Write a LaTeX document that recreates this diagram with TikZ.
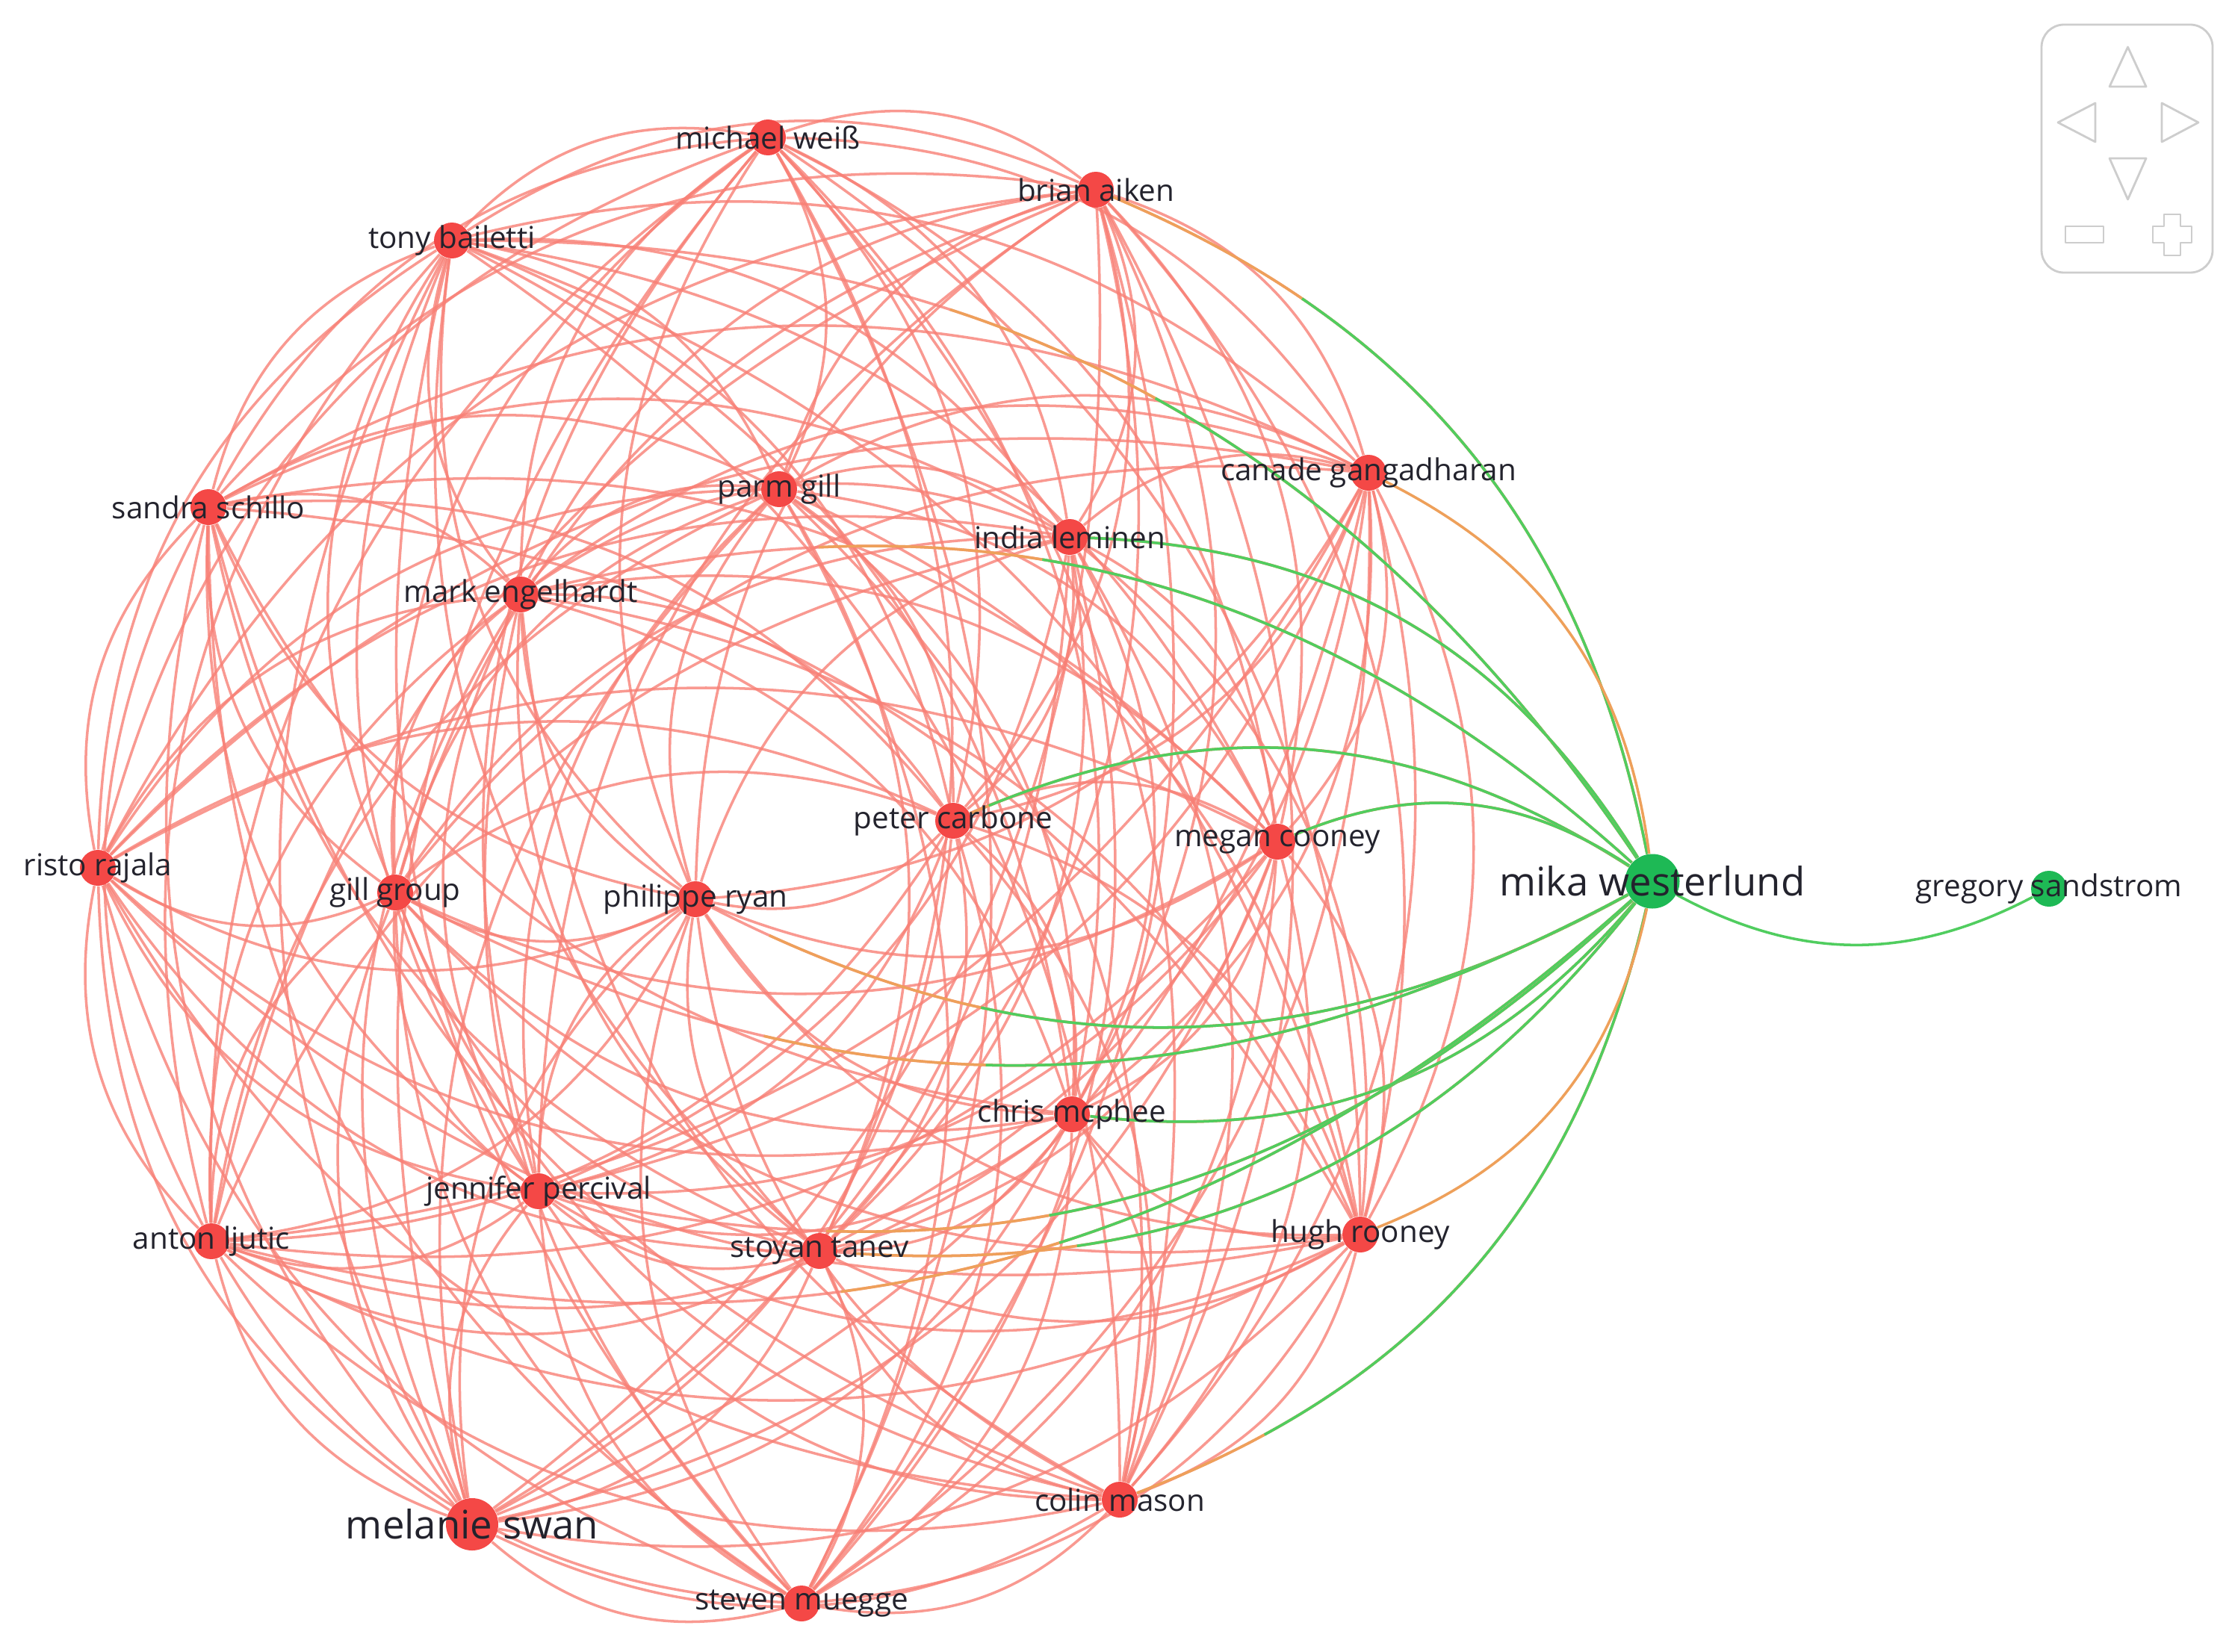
\documentclass[tikz,border=0pt]{standalone}
\usepackage{fontspec}
\setmainfont{Open Sans}
\usetikzlibrary{backgrounds}

\definecolor{nodered}{RGB}{244,72,70}
\definecolor{edgered}{RGB}{248,128,118}
\definecolor{nodegreen}{RGB}{30,185,85}
\definecolor{edgegreen}{RGB}{80,205,95}
\definecolor{edgeorange}{RGB}{238,160,90}
\definecolor{labelgray}{RGB}{35,35,45}
\definecolor{navgray}{RGB}{205,205,205}

\begin{document}
\begin{tikzpicture}[
    every node/.style={font=\fontsize{11.5}{13}\selectfont, text=labelgray},
    author/.style={circle, fill=nodered, inner sep=0pt, minimum size=4.8mm},
    bigauthor/.style={author, minimum size=7mm},
    lbl/.style={inner sep=0pt},
    biglbl/.style={inner sep=0pt, font=\fontsize{15}{17}\selectfont},
    coauthor/.style={draw=edgered, line width=1pt, opacity=0.8},
    greenlink/.style={draw=edgegreen, line width=1pt, dash pattern=on 9cm off 60cm},
    orangelink/.style={draw=edgeorange, line width=1pt, dash pattern=on 12cm off 60cm},
    navline/.style={draw=navgray, line width=0.8pt, line join=round}
]
    \useasboundingbox (0,0) rectangle (29.88,-22.11);

    % Nodes
    \node (rajala) at (1.31,-11.62) [author] {};
    \node (schillo) at (2.79,-6.79) [author] {};
    \node (engelhardt) at (6.97,-7.96) [author] {};
    \node (bailetti) at (6.05,-3.22) [author] {};
    \node (weiss) at (10.28,-1.84) [author] {};
    \node (gill) at (10.43,-6.55) [author] {};
    \node (aiken) at (14.67,-2.54) [author] {};
    \node (leminen) at (14.32,-7.19) [author] {};
    \node (gangadharan) at (18.32,-6.33) [author] {};
    \node (carbone) at (12.76,-10.99) [author] {};
    \node (cooney) at (17.10,-11.27) [author] {};
    \node (rooney) at (18.21,-16.53) [author] {};
    \node (mcphee) at (14.35,-14.92) [author] {};
    \node (mason) at (14.99,-20.08) [author] {};
    \node (tanev) at (10.97,-16.75) [author] {};
    \node (muegge) at (10.73,-21.47) [author] {};
    \node (swan) at (6.32,-20.41) [bigauthor] {};
    \node (percival) at (7.21,-15.95) [author] {};
    \node (ryan) at (9.31,-12.04) [author] {};
    \node (ljutic) at (2.83,-16.62) [author] {};
    \node (gill_group) at (5.29,-11.95) [author] {};
    \node (westerlund) at (22.12,-11.80) [bigauthor, fill=nodegreen, minimum size=7.3mm] {};
    \node (sandstrom) at (27.43,-11.90) [author, fill=nodegreen] {};

    % Edges (each pair bends clockwise round the middle of the cluster)
    \def\redauthors{rajala/180.8, schillo/146.8, engelhardt/130.6, bailetti/115.5,
        weiss/88.3, gill/85.0, aiken/62.3, leminen/44.9, gangadharan/31.9,
        carbone/10.5, cooney/1.8, rooney/-31.5, mcphee/-38.2, mason/-59.8,
        tanev/-79.5, muegge/-85.8, swan/-112.4, percival/-122.1, ryan/-142.0,
        ljutic/-144.5, gill_group/-174.5}
    \begin{pgfonlayer}{background}
        \fill[white] (0,0) rectangle (29.88,-22.11);
        \foreach \a/\ta [count=\i] in \redauthors {
            \foreach \b/\tb [count=\j] in \redauthors {
                \ifnum\i<\j
                    \pgfmathsetmacro\turn{mod(\ta-\tb+720,360)}
                    \ifdim\turn pt<180pt
                        \draw[coauthor] (\a) to[bend left=28] (\b);
                    \else
                        \draw[coauthor] (\b) to[bend left=28] (\a);
                    \fi
                \fi
            }
        }
        % links of mika westerlund, green near him
        \foreach \b in {bailetti,aiken,leminen,engelhardt,carbone,cooney} {
            \draw[coauthor] (westerlund) to[bend right=28] (\b);
            \draw[orangelink] (westerlund) to[bend right=28] (\b);
            \draw[greenlink] (westerlund) to[bend right=28] (\b);
        }
        \foreach \b in {mcphee,mason,tanev,percival,ryan,ljutic,gill_group} {
            \draw[coauthor] (westerlund) to[bend left=28] (\b);
            \draw[orangelink] (westerlund) to[bend left=28] (\b);
            \draw[greenlink] (westerlund) to[bend left=28] (\b);
        }
        \draw[draw=edgeorange, line width=1pt] (westerlund) to[bend right=28] (gangadharan);
        \draw[draw=edgeorange, line width=1pt] (westerlund) to[bend left=28] (rooney);
        \draw[draw=edgegreen, line width=1pt] (sandstrom) to[bend left=28] (westerlund);
    \end{pgfonlayer}

    % Labels
    \node (rajala_label) at (rajala) [lbl] {risto rajala};
    \node (schillo_label) at (schillo) [lbl] {sandra schillo};
    \node (engelhardt_label) at (engelhardt) [lbl] {mark engelhardt};
    \node (bailetti_label) at (bailetti) [lbl] {tony bailetti};
    \node (weiss_label) at (weiss) [lbl] {michael weiß};
    \node (gill_label) at (gill) [lbl] {parm gill};
    \node (aiken_label) at (aiken) [lbl] {brian aiken};
    \node (leminen_label) at (leminen) [lbl] {india leminen};
    \node (gangadharan_label) at (gangadharan) [lbl] {canade gangadharan};
    \node (carbone_label) at (carbone) [lbl] {peter carbone};
    \node (cooney_label) at (cooney) [lbl] {megan cooney};
    \node (rooney_label) at (rooney) [lbl] {hugh rooney};
    \node (mcphee_label) at (mcphee) [lbl] {chris mcphee};
    \node (mason_label) at (mason) [lbl] {colin mason};
    \node (tanev_label) at (tanev) [lbl] {stoyan tanev};
    \node (muegge_label) at (muegge) [lbl] {steven muegge};
    \node (swan_label) at (swan) [biglbl] {melanie swan};
    \node (percival_label) at (percival) [lbl] {jennifer percival};
    \node (ryan_label) at (ryan) [lbl] {philippe ryan};
    \node (ljutic_label) at (ljutic) [lbl] {anton ljutic};
    \node (gill_group_label) at (gill_group) [lbl] {gill group};
    \node (westerlund_label) at (westerlund) [biglbl] {mika westerlund};
    \node (sandstrom_label) at (sandstrom) [lbl] {gregory sandstrom};

    % Navigation
    \draw[navline, rounded corners=0.3cm] (27.33,-0.33) rectangle (29.62,-3.65);
    \draw[navline] (28.24,-1.16) -- (28.485,-0.63) -- (28.73,-1.16) -- cycle;
    \draw[navline] (28.05,-1.38) -- (27.55,-1.64) -- (28.05,-1.90) -- cycle;
    \draw[navline] (28.94,-1.38) -- (29.43,-1.64) -- (28.94,-1.90) -- cycle;
    \draw[navline] (28.24,-2.12) -- (28.73,-2.12) -- (28.485,-2.67) -- cycle;
    \draw[navline] (27.65,-3.03) rectangle (28.16,-3.25);
    \draw[navline] (28.97,-2.87) -- (29.19,-2.87) -- (29.19,-3.03) -- (29.34,-3.03)
        -- (29.34,-3.25) -- (29.19,-3.25) -- (29.19,-3.42) -- (28.97,-3.42)
        -- (28.97,-3.25) -- (28.82,-3.25) -- (28.82,-3.03) -- (28.97,-3.03) -- cycle;

\end{tikzpicture}
\end{document}
